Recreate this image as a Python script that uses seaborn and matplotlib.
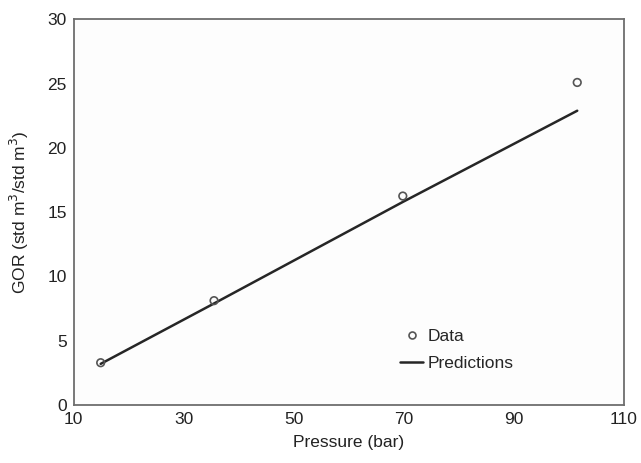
import matplotlib
matplotlib.use("Agg")
import matplotlib.pyplot as plt
import seaborn as sns
import pandas as pd
from matplotlib.lines import Line2D

pressure = [14.9, 35.5, 69.8, 101.5]
gor_data = [3.29, 8.12, 16.26, 25.1]
gor_pred = [3.2, 7.9, 15.8, 22.9]
xticks = [10, 30, 50, 70, 90, 110]
yticks = [0, 5, 10, 15, 20, 25, 30]

sns.set_style("white")
plt.rcParams['font.family'] = ['Liberation Sans', 'DejaVu Sans']

df = pd.DataFrame({"Pressure": pressure, "Data": gor_data, "Predictions": gor_pred})

fig = plt.figure(figsize=(6.41, 4.63), dpi=100)
ax = fig.add_axes([0.115, 0.1253, 0.8585, 0.8326])
ax.set_facecolor("#fdfdfd")

sns.lineplot(data=df, x="Pressure", y="Predictions", ax=ax, color="#262626", linewidth=1.8)
sns.scatterplot(data=df, x="Pressure", y="Data", ax=ax, marker="o", s=30,
                facecolor="none", edgecolor="#555555", linewidth=1.2, zorder=3)

fs = 12.5
ax.set_xlim(10, 110)
ax.set_ylim(0, 30)
ax.set_xticks(xticks)
ax.set_yticks(yticks)
ax.tick_params(axis="both", direction="in", length=4, width=1, color="#aaaaaa",
               labelsize=fs, labelcolor="#222222", pad=5)
for s in ax.spines.values():
    s.set_color("#6e6e6e")
    s.set_linewidth(1.3)

ax.set_xlabel("Pressure (bar)", fontsize=fs, color="#222222", labelpad=6)
ax.set_ylabel("GOR (std m$^3$/std m$^3$)", fontsize=fs, color="#222222", labelpad=12)

handles = [Line2D([], [], marker="o", linestyle="none", markerfacecolor="none",
                  markeredgecolor="#555555", markersize=5, markeredgewidth=1.2),
           Line2D([], [], color="#262626", linewidth=1.8)]
ax.legend(handles, ["Data", "Predictions"], frameon=False, fontsize=fs,
          loc="lower left", bbox_to_anchor=(0.565, 0.047), handlelength=1.3,
          handletextpad=0.3, labelspacing=0.7)

fig.savefig("out.png", dpi=100)
